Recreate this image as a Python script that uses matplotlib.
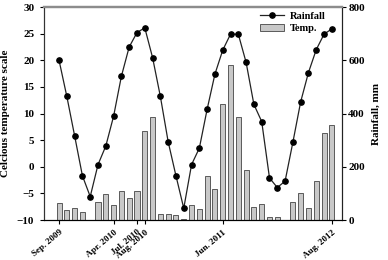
import matplotlib
matplotlib.use("Agg")
import matplotlib.pyplot as plt
import matplotlib.transforms as mtransforms
import numpy as np

plt.rcParams['font.family'] = ['Liberation Serif', 'DejaVu Serif']
plt.rcParams['font.weight'] = 'bold'

months = ["Sep. 2009", "Oct. 2009", "Nov. 2009", "Dec. 2009", "Jan. 2010", "Feb. 2010",
          "Mar. 2010", "Apr. 2010", "May 2010", "Jun. 2010", "Jul. 2010", "Aug. 2010",
          "Sep. 2010", "Oct. 2010", "Nov. 2010", "Dec. 2010", "Jan. 2011", "Feb. 2011",
          "Mar. 2011", "Apr. 2011", "May 2011", "Jun. 2011", "Jul. 2011", "Aug. 2011",
          "Sep. 2011", "Oct. 2011", "Nov. 2011", "Dec. 2011", "Jan. 2012", "Feb. 2012",
          "Mar. 2012", "Apr. 2012", "May 2012", "Jun. 2012", "Jul. 2012", "Aug. 2012"]

# line series (legend: "Rainfall"), read on the left axis
line_values = [20.0, 13.2, 5.8, -1.7, -5.6, 0.4, 3.9, 9.5, 17.0, 22.5, 25.2, 26.1,
               20.5, 13.2, 4.7, -1.7, -7.8, 0.4, 3.5, 10.8, 17.4, 21.9, 24.9, 24.9,
               19.6, 11.7, 8.5, -2.1, -3.9, -2.7, 4.6, 12.2, 17.7, 22.0, 24.9, 25.9]

# bar series (legend: "Temp."), read on the right axis (mm)
bar_values = [63, 36, 45, 30, 0, 68, 96, 58, 109, 83, 108, 333,
              388, 23, 21, 17, 5, 56, 41, 165, 115, 437, 582, 388,
              188, 48, 59, 12, 10, 0, 69, 103, 44, 147, 326, 357]

shown_ticks = ["Sep. 2009", "Apr. 2010", "Jul. 2010", "Aug. 2010", "Jun. 2011", "Aug. 2012"]

x = np.arange(len(months))

fig = plt.figure(figsize=(3.88, 2.6), dpi=100)
ax = fig.add_axes([0.1134, 0.1538, 0.7680, 0.8192])
ax2 = ax.twinx()

bars = ax2.bar(x, bar_values, width=0.65, color='#c8c8c8', edgecolor='#444444',
               linewidth=0.6, label='Temp.')
line, = ax.plot(x, line_values, color='#222222', linewidth=0.9, marker='o',
                markersize=3.8, markerfacecolor='black', markeredgecolor='black',
                label='Rainfall')

ax.set_zorder(ax2.get_zorder() + 1)
ax.patch.set_visible(False)

ax.set_xlim(-1.93, 36.3)
ax.set_ylim(-10, 30)
ax2.set_ylim(0, 800)
ax.set_yticks(np.arange(-10, 31, 5))
ax2.set_yticks([0, 200, 400, 600, 800])

tick_pos = [months.index(m) for m in shown_ticks]
ax.set_xticks(tick_pos)
ax.set_xticklabels(shown_ticks, rotation=40, ha='right', va='top',
                   rotation_mode='anchor', fontsize=6.6, fontweight='bold')
offset = mtransforms.ScaledTranslation(3 / 100, 1 / 100, fig.dpi_scale_trans)
for lab in ax.get_xticklabels():
    lab.set_transform(lab.get_transform() + offset)

ax.tick_params(axis='y', direction='out', length=3, width=0.8, pad=4, labelsize=8)
ax.tick_params(axis='x', direction='out', length=3, width=0.8, pad=3)
ax2.tick_params(axis='y', direction='out', length=3, width=0.8, pad=1.5, labelsize=8)
for lab in ax.get_yticklabels() + ax2.get_yticklabels():
    lab.set_fontweight('bold')

for a in (ax, ax2):
    a.spines['top'].set_color('#8c8c8c')
    a.spines['top'].set_linewidth(1.6)
    a.spines['bottom'].set_color('black')
    a.spines['left'].set_color('#333333')
    a.spines['right'].set_color('#222222')

ax.set_ylabel('Celcious temperature scale', fontsize=8, fontweight='bold', labelpad=5)
ax2.set_ylabel('Rainfall, mm', fontsize=8, fontweight='bold', labelpad=5)

leg = ax.legend([line, bars[0]], ['Rainfall', 'Temp.'], loc='upper right',
                bbox_to_anchor=(0.96, 1.0), frameon=False,
                handlelength=2.3, labelspacing=0.3, borderaxespad=0.05,
                handletextpad=0.5, prop={'weight': 'bold', 'size': 7.5})

fig.savefig('out.png', dpi=100)
